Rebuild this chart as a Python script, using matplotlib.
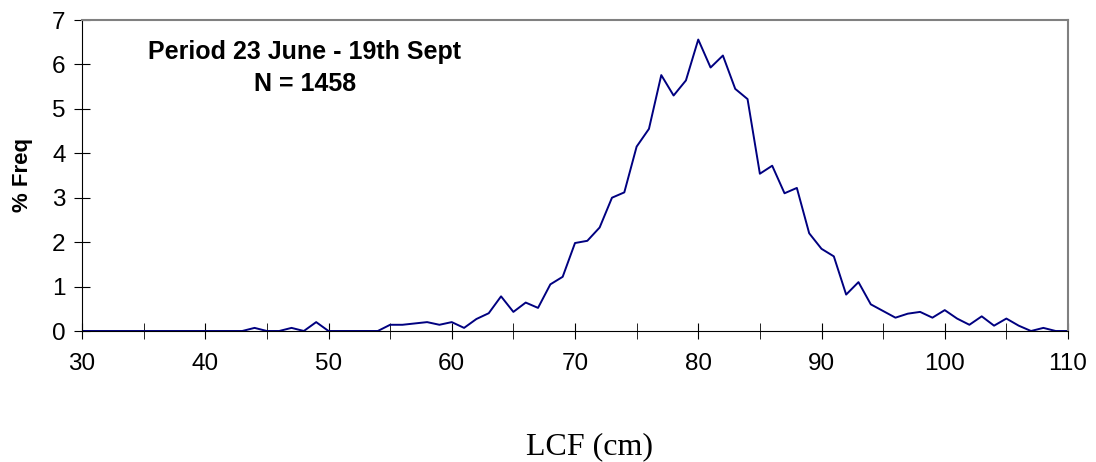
import numpy as np
import matplotlib.pyplot as plt

plt.rcParams['font.family'] = ['Liberation Sans', 'DejaVu Sans']

lcf = np.arange(30, 111)
freq = np.zeros(len(lcf))
vals = {44: 0.07, 47: 0.07, 49: 0.2, 55: 0.14, 56: 0.14, 57: 0.17, 58: 0.2, 59: 0.14,
        60: 0.2, 61: 0.07, 62: 0.27, 63: 0.4, 64: 0.78, 65: 0.43, 66: 0.64, 67: 0.52,
        68: 1.05, 69: 1.22, 70: 1.98, 71: 2.03, 72: 2.33, 73: 3.0, 74: 3.12, 75: 4.15,
        76: 4.55, 77: 5.76, 78: 5.3, 79: 5.64, 80: 6.56, 81: 5.93, 82: 6.2, 83: 5.45,
        84: 5.22, 85: 3.54, 86: 3.72, 87: 3.1, 88: 3.22, 89: 2.2, 90: 1.85, 91: 1.68,
        92: 0.82, 93: 1.1, 94: 0.6, 95: 0.45, 96: 0.3, 97: 0.39, 98: 0.43, 99: 0.3,
        100: 0.47, 101: 0.28, 102: 0.14, 103: 0.33, 104: 0.12, 105: 0.28, 106: 0.12,
        108: 0.07}
for k, v in vals.items():
    freq[k - 30] = v

fig = plt.figure(figsize=(10.96, 4.62), dpi=100)
ax = fig.add_axes([82/1096, 1 - 331/462, (1068-82)/1096, (331-20)/462])
ax.plot(lcf, freq, color='#000080', lw=1.4)
ax.set_xlim(30, 110)
ax.set_ylim(0, 7)
ax.set_xticks(range(30, 111, 10))
ax.set_xticks(range(35, 111, 10), minor=True)
ax.set_yticks(range(0, 8))
ax.tick_params(axis='both', which='both', direction='inout', length=11.5, labelsize=17.5)
ax.tick_params(axis='x', pad=10)
ax.tick_params(axis='y', pad=6)
for s in ['top', 'right']:
    ax.spines[s].set_color('#808080')
    ax.spines[s].set_linewidth(1.5)
ax.set_ylabel('% Freq', fontsize=16, fontweight='bold', labelpad=14)
ax.text((305 - 82) / 986, 0.935, 'Period 23 June - 19th Sept\nN = 1458',
        transform=ax.transAxes, ha='center', va='top', fontsize=18,
        fontweight='bold', linespacing=1.4)
fig.text(590/1096, 1 - 447/462, 'LCF (cm)', ha='center', va='center',
         fontsize=23, family='Liberation Serif')
fig.savefig('out.png')
